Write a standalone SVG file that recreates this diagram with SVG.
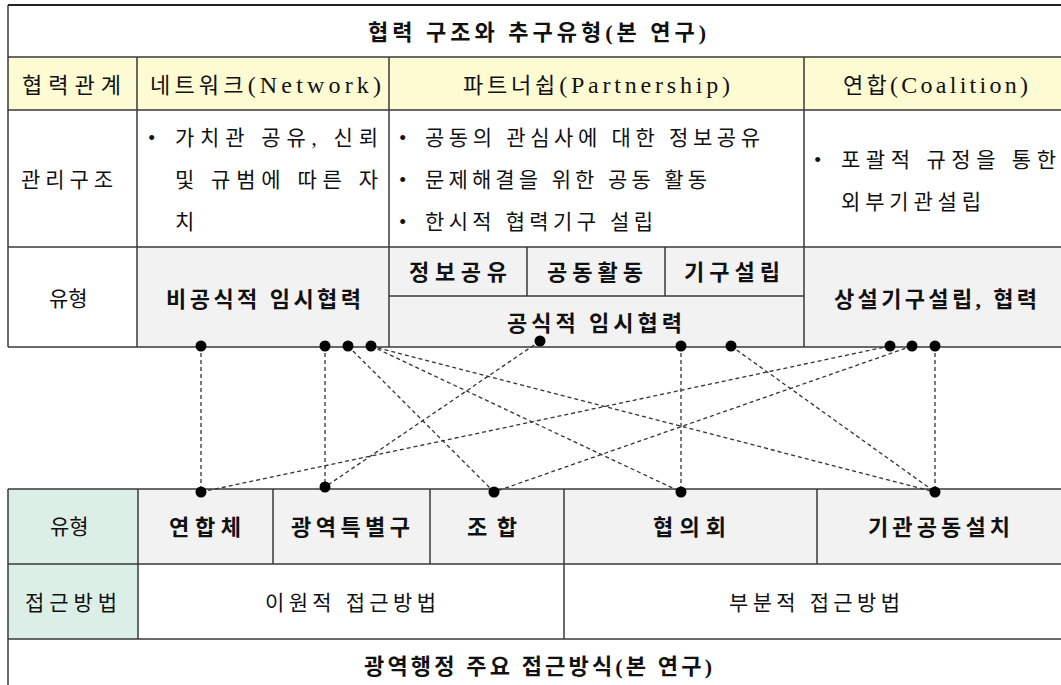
<svg xmlns="http://www.w3.org/2000/svg" width="1061" height="685" viewBox="0 0 1061 685">
<style>
.t{font-family:"Liberation Serif","Noto Sans CJK KR",serif;font-size:21px;fill:#111;dominant-baseline:central}
.b{font-weight:bold;font-size:22px}
.h{font-size:22px}
.lat{font-size:24px}
.ln{stroke:#3a3a3a;stroke-width:1.5;fill:none}
.cn{stroke:#333;stroke-width:1.3;stroke-dasharray:4 3;fill:none}
.dot{fill:#000}
</style>
<rect width="1061" height="685" fill="#fff"/>
<!-- top table -->
<g id="top-table">
<rect x="8" y="57" width="1060" height="53" fill="#fdfbd2"/>
<rect x="137" y="247" width="930" height="100" fill="#f2f2f2"/>
<path class="ln" d="M8 5H1068M8 57H1068M8 110H1068M8 247H1068M389 296H804M8 347H1068M8 5V347M137 57V347M389 57V347M804 57V347M527 247V296M665 247V296" />
<path d="M8 5H1068" stroke="#222" stroke-width="2"/>
</g>
<g id="top-title"><text class="t b" x="368" y="32" textLength="338">협력 구조와 추구유형(본 연구)</text></g>
<g id="h-rel"><text class="t h" x="22" y="85" textLength="99">협력관계</text></g>
<g id="h-network"><text class="t h" x="150" y="85" textLength="231">네트워크<tspan class="lat">(Network)</tspan></text></g>
<g id="h-partnership"><text class="t h" x="463" y="85" textLength="267">파트너쉽<tspan class="lat">(Partnership)</tspan></text></g>
<g id="h-coalition"><text class="t h" x="843" y="85" textLength="185">연합<tspan class="lat">(Coalition)</tspan></text></g>
<g id="m-label"><text class="t" x="21" y="180" textLength="92">관리구조</text></g>
<g id="m-network">
<text class="t" x="148" y="138">•</text>
<text class="t" x="175" y="138" textLength="203">가치관 공유, 신뢰</text>
<text class="t" x="175" y="180" textLength="203">및 규범에 따른 자</text>
<text class="t" x="175" y="222">치</text>
</g>
<g id="m-partnership">
<text class="t" x="399" y="138">•</text>
<text class="t" x="425" y="138" textLength="335">공동의 관심사에 대한 정보공유</text>
<text class="t" x="399" y="180">•</text>
<text class="t" x="425" y="180" textLength="282">문제해결을 위한 공동 활동</text>
<text class="t" x="399" y="222">•</text>
<text class="t" x="425" y="222" textLength="228">한시적 협력기구 설립</text>
</g>
<g id="m-coalition">
<text class="t" x="814" y="160">•</text>
<text class="t" x="841" y="160" textLength="215">포괄적 규정을 통한</text>
<text class="t" x="841" y="202" textLength="140">외부기관설립</text>
</g>
<g id="ty-label"><text class="t" x="49" y="299">유형</text></g>
<g id="ty-informal"><text class="t b" x="166" y="299" textLength="195">비공식적 임시협력</text></g>
<g id="ty-info"><text class="t b" x="409" y="272" textLength="98">정보공유</text></g>
<g id="ty-joint"><text class="t b" x="547" y="272" textLength="96">공동활동</text></g>
<g id="ty-org"><text class="t b" x="684" y="272" textLength="96">기구설립</text></g>
<g id="ty-formal"><text class="t b" x="507" y="323" textLength="175">공식적 임시협력</text></g>
<g id="ty-permanent"><text class="t b" x="834" y="299" textLength="203">상설기구설립, 협력</text></g>

<!-- bottom table -->
<g id="bottom-table">
<rect x="8" y="489" width="130" height="150" fill="#dcefe6"/>
<rect x="138" y="489" width="930" height="75" fill="#f2f2f2"/>
<path class="ln" d="M8 489H1068M8 564H1068M8 639H1068M8 489V690M138 489V639M273 489V564M430 489V564M564 489V639M817 489V564"/>
</g>
<g id="b-label"><text class="t" x="50" y="527">유형</text></g>
<g id="b-union"><text class="t b" x="169" y="527" textLength="72">연합체</text></g>
<g id="b-special"><text class="t b" x="291" y="527" textLength="119">광역특별구</text></g>
<g id="b-assoc"><text class="t b" x="467" y="527" textLength="50">조합</text></g>
<g id="b-council"><text class="t b" x="653" y="527" textLength="73">협의회</text></g>
<g id="b-joint"><text class="t b" x="868" y="527" textLength="142">기관공동설치</text></g>
<g id="a-label"><text class="t" x="25" y="603" textLength="92">접근방법</text></g>
<g id="a-dual"><text class="t" x="265" y="603" textLength="171">이원적 접근방법</text></g>
<g id="a-partial"><text class="t" x="729" y="603" textLength="171">부분적 접근방법</text></g>
<g id="bottom-title"><text class="t b" x="364" y="666" textLength="348">광역행정 주요 접근방식(본 연구)</text></g>

<!-- connectors -->
<g id="connectors">
<path class="cn" d="M201 346L201 492"/>
<path class="cn" d="M325 346L325 487"/>
<path class="cn" d="M348 346L494 492"/>
<path class="cn" d="M371 346L681 492"/>
<path class="cn" d="M371 346L935 492"/>
<path class="cn" d="M540 341L325 487"/>
<path class="cn" d="M681 346L681 492"/>
<path class="cn" d="M731 346L935 492"/>
<path class="cn" d="M890 346L201 492"/>
<path class="cn" d="M912 346L494 492"/>
<path class="cn" d="M935 346L935 492"/>
<g class="dot">
<circle cx="201" cy="346" r="5.5"/><circle cx="325" cy="346" r="5.5"/><circle cx="348" cy="346" r="5.5"/><circle cx="371" cy="346" r="5.5"/>
<circle cx="540" cy="341" r="5.5"/><circle cx="681" cy="346" r="5.5"/><circle cx="731" cy="346" r="5.5"/>
<circle cx="890" cy="346" r="5.5"/><circle cx="912" cy="346" r="5.5"/><circle cx="935" cy="346" r="5.5"/>
<circle cx="201" cy="492" r="5.5"/><circle cx="325" cy="487" r="5.5"/><circle cx="494" cy="492" r="5.5"/><circle cx="681" cy="492" r="5.5"/><circle cx="935" cy="492" r="5.5"/>
</g>
</g>
</svg>
